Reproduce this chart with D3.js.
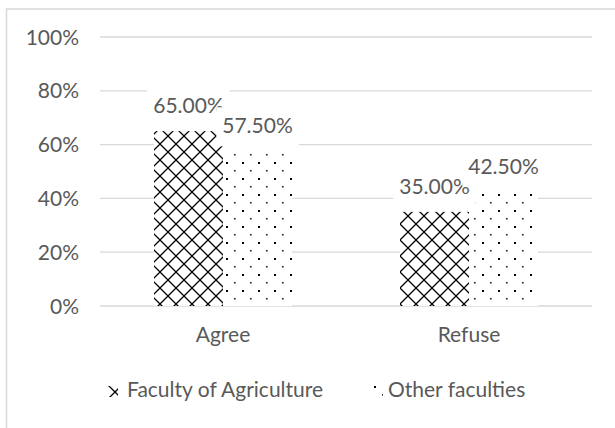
<!DOCTYPE html>
<html>
<head>
<meta charset="utf-8">
<script src="https://cdn.jsdelivr.net/npm/d3@7"></script>
<style>
  body { margin: 0; background: #fff; }
  text { font-family: Lato, "Open Sans", sans-serif; fill: #595959; }
</style>
</head>
<body>
<div id="chart"></div>
<script>
const categories = ['Agree', 'Refuse'];
const series = ['Faculty of Agriculture', 'Other faculties'];
const faculty = [0.65, 0.35];
const others = [0.575, 0.425];
const yTicks = [0, 0.2, 0.4, 0.6, 0.8, 1];

const width = 615, height = 428;
const fs = 21;

const svg = d3.select('#chart').append('svg')
    .attr('width', width)
    .attr('height', height);

svg.append('rect').attr('width', width).attr('height', height).attr('fill', '#fff');

// chart frame (runs off the right and bottom of the picture)
svg.append('rect')
    .attr('x', 6.5).attr('y', 9)
    .attr('width', 700).attr('height', 500)
    .attr('fill', 'none')
    .attr('stroke', '#d9d9d9')
    .attr('stroke-width', 1.5);

const defs = svg.append('defs');

const trellis = defs.append('pattern')
    .attr('id', 'trellis')
    .attr('patternUnits', 'userSpaceOnUse')
    .attr('width', 16).attr('height', 16);
trellis.append('rect').attr('width', 16).attr('height', 16).attr('fill', '#fff');
trellis.append('path')
    .attr('d', 'M0,0L16,16M16,0L0,16')
    .attr('stroke', '#000')
    .attr('stroke-width', 1.3);

const dots = defs.append('pattern')
    .attr('id', 'dots')
    .attr('patternUnits', 'userSpaceOnUse')
    .attr('width', 16).attr('height', 16);
dots.append('rect').attr('width', 16).attr('height', 16).attr('fill', '#fff');
dots.append('rect').attr('x', 2).attr('y', 2).attr('width', 2).attr('height', 2).attr('fill', '#000');
dots.append('rect').attr('x', 10).attr('y', 10).attr('width', 1.6).attr('height', 1.6).attr('fill', '#222');

const fills = ['url(#trellis)', 'url(#dots)'];

const y = d3.scaleLinear().domain([0, 1]).range([306, 37]);
const x0 = d3.scaleBand().domain(categories).range([100, 592]).padding(0);
const groupW = 138;
const x1 = d3.scaleBand().domain(series).range([0, groupW]).padding(0);
const groupX = c => x0(c) + (x0.bandwidth() - groupW) / 2;

// gridlines
svg.append('g')
  .selectAll('line')
  .data(yTicks)
  .join('line')
    .attr('x1', 100).attr('x2', 592)
    .attr('y1', d => y(d)).attr('y2', d => y(d))
    .attr('stroke', '#d9d9d9')
    .attr('stroke-width', 1.3);

// y tick labels
svg.append('g')
  .selectAll('text')
  .data(yTicks)
  .join('text')
    .attr('x', 79)
    .attr('y', d => y(d) + 7.5)
    .attr('text-anchor', 'end')
    .style('font-size', fs + 'px')
    .text(d3.format('.0%'));

const values = [faculty, others];

series.forEach((s, i) => {
  svg.append('g')
    .selectAll('rect')
    .data(categories)
    .join('rect')
      .attr('x', c => groupX(c) + x1(s))
      .attr('y', (c, j) => y(values[i][j]))
      .attr('width', x1.bandwidth())
      .attr('height', (c, j) => y(0) - y(values[i][j]))
      .attr('fill', fills[i]);
});

// data labels, each on a white box (later ones cover earlier ones)
const fmt = d3.format('.2%');
series.forEach((s, i) => {
  categories.forEach((c, j) => {
    const cx = groupX(c) + x1(s) + x1.bandwidth() / 2;
    const base = y(values[i][j]) - 18;
    const g = svg.append('g');
    const box = g.append('rect').attr('fill', '#fff');
    const t = g.append('text')
        .attr('x', cx)
        .attr('y', base)
        .attr('text-anchor', 'middle')
        .style('font-size', fs + 'px')
        .text(fmt(values[i][j]));
    const bb = t.node().getBBox();
    box.attr('x', bb.x - 6).attr('width', bb.width + 12)
       .attr('y', base - 26).attr('height', 39);
  });
});

// category labels
svg.append('g')
  .selectAll('text')
  .data(categories)
  .join('text')
    .attr('x', c => x0(c) + x0.bandwidth() / 2)
    .attr('y', 342)
    .attr('text-anchor', 'middle')
    .style('font-size', fs + 'px')
    .text(d => d);

// legend
const legendX = [107, 372];
const leg = svg.append('g')
  .selectAll('g')
  .data(series)
  .join('g')
    .attr('transform', (d, i) => `translate(${legendX[i]},0)`);
leg.append('rect')
    .attr('x', 0).attr('y', 386)
    .attr('width', 11).attr('height', 11)
    .attr('fill', (d, i) => fills[i]);
leg.append('text')
    .attr('x', (d, i) => i === 0 ? 20 : 16)
    .attr('y', 397)
    .style('font-size', fs + 'px')
    .text(d => d);
</script>
</body>
</html>
